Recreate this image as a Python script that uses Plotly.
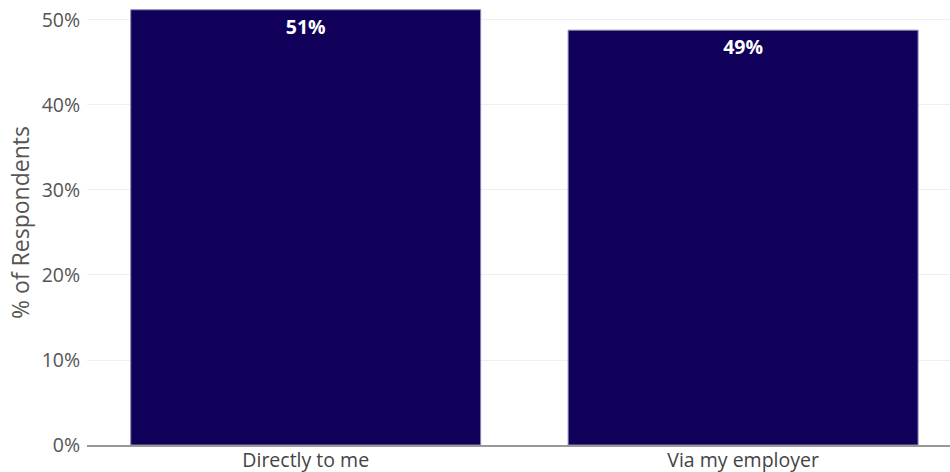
import plotly.graph_objects as go

# Survey answers: how the benefit is paid out
categories = ["Directly to me", "Via my employer"]
share = [0.512, 0.488]

bar_color = "#10005A"

fig = go.Figure(
    go.Bar(
        x=categories,
        y=share,
        marker=dict(color=bar_color, line=dict(color="#8a87b0", width=1)),
        texttemplate="%{y:.0%}",
        textposition="inside",
        insidetextanchor="end",
        textfont=dict(color="white", size=19.5, family="Open Sans", weight="bold"),
        width=0.8,
    )
)

fig.update_layout(
    width=950,
    height=472,
    margin=dict(l=87, r=0, t=0, b=27),
    paper_bgcolor="white",
    plot_bgcolor="white",
    font=dict(family="Open Sans", color="#444"),
    showlegend=False,
)

fig.update_xaxes(
    range=[-0.5, 1.473],
    tickfont=dict(size=19.5, color="#444"),
    showline=True,
    linecolor="#999",
    linewidth=2,
    showgrid=False,
    automargin=False,
    ticklabelstandoff=-3,
)

fig.update_yaxes(
    range=[0, 0.5235],
    tickformat=".0%",
    dtick=0.1,
    tickfont=dict(size=19.5, color="#555"),
    gridcolor="#eeeeee",
    zeroline=False,
    ticks="outside",
    ticklen=2,
    tickcolor="rgba(0,0,0,0)",
    automargin=False,
    title=dict(text="% of Respondents", font=dict(size=23, color="#555"), standoff=5),
)

fig.write_html("out.html")
